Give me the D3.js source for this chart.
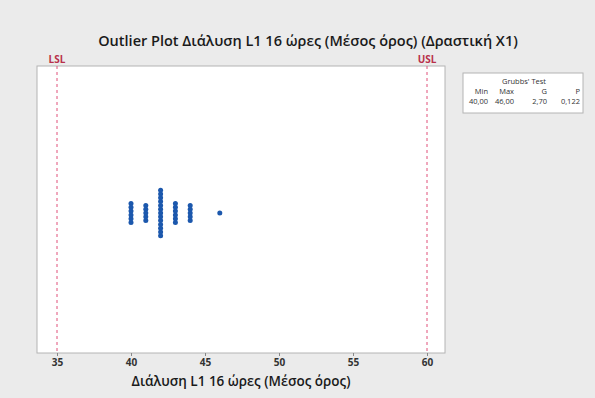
<!DOCTYPE html>
<html>
<head>
<meta charset="utf-8">
<script src="https://cdn.jsdelivr.net/npm/d3@7"></script>
<style>
  html, body { margin: 0; padding: 0; background: #ebebeb; }
  svg { display: block; }
</style>
</head>
<body>
<svg id="chart" width="595" height="398"></svg>
<script>
// Observations (Διάλυση L1 16 ώρες, μέσος όρος)
const observations = [
  40, 40, 40, 40, 40, 40,
  41, 41, 41, 41, 41,
  42, 42, 42, 42, 42, 42, 42, 42, 42, 42, 42, 42, 42,
  43, 43, 43, 43, 43, 43,
  44, 44, 44, 44, 44,
  46
];
const specLimits = [
  { label: "LSL", value: 35 },
  { label: "USL", value: 60 }
];
const xTicks = [35, 40, 45, 50, 55, 60];
const grubbsHeaders = ["Min", "Max", "G", "P"];
const grubbsValues = ["40,00", "46,00", "2,70", "0,122"];

const titleText = "Outlier Plot Διάλυση L1 16 ώρες (Μέσος όρος) (Δραστική Χ1)";
const xTitle = "Διάλυση L1 16 ώρες (Μέσος όρος)";

const svg = d3.select("#chart");
const W = 595, H = 398;
const font = "'Open Sans', 'Noto Sans', sans-serif";

svg.append("rect").attr("width", W).attr("height", H).attr("fill", "#ebebeb");

// plot area
const plot = { left: 37, right: 445, top: 66, bottom: 353 };
const x = d3.scaleLinear().domain([35, 60]).range([57, 427]);

svg.append("rect")
  .attr("x", plot.left).attr("y", plot.top)
  .attr("width", plot.right - plot.left).attr("height", plot.bottom - plot.top)
  .attr("fill", "#ffffff").attr("stroke", "#b4b4b4").attr("stroke-width", 1);

// title
svg.append("text")
  .attr("x", 308).attr("y", 46)
  .attr("text-anchor", "middle")
  .attr("font-family", font).attr("font-weight", 600).attr("font-size", 14.5)
  .attr("fill", "#1a1a1a")
  .text(titleText);

// specification limits
const specG = svg.append("g");
specLimits.forEach(s => {
  specG.append("line")
    .attr("x1", x(s.value)).attr("x2", x(s.value))
    .attr("y1", plot.top).attr("y2", plot.bottom)
    .attr("stroke", "#e0507a").attr("stroke-width", 1)
    .attr("stroke-dasharray", "3,3");
  specG.append("text")
    .attr("x", x(s.value)).attr("y", plot.top - 3)
    .attr("text-anchor", "middle")
    .attr("font-family", font).attr("font-weight", 700).attr("font-size", 10)
    .attr("fill", "#b8304a")
    .text(s.label);
});

// x axis
const axis = d3.axisBottom(x).tickValues(xTicks).tickSize(3).tickPadding(3)
  .tickFormat(d3.format("d"));
const axG = svg.append("g")
  .attr("transform", `translate(0,${plot.bottom})`)
  .call(axis);
axG.select(".domain").remove();
axG.selectAll(".tick line").attr("stroke", "#888");
axG.selectAll(".tick text")
  .attr("font-family", font).attr("font-size", 10).attr("font-weight", 700)
  .attr("fill", "#333");

svg.append("text")
  .attr("x", 241).attr("y", 386)
  .attr("text-anchor", "middle")
  .attr("font-family", font).attr("font-size", 13.5).attr("font-weight", 600)
  .attr("fill", "#1a1a1a")
  .text(xTitle);

// stacked dots, centred vertically at the middle row
const counts = d3.rollups(observations, v => v.length, d => d);
const dotStep = 3.8;
const yCenter = 213;
const dots = [];
counts.forEach(([val, n]) => {
  for (let i = 0; i < n; i++) {
    dots.push({ value: val, offset: i - (n - 1) / 2 });
  }
});
const y = d3.scaleLinear().domain([0, 1]).range([yCenter, yCenter - dotStep]);

svg.append("g").selectAll("circle")
  .data(dots)
  .join("circle")
  .attr("cx", d => x(d.value))
  .attr("cy", d => y(d.offset))
  .attr("r", 2.5)
  .attr("fill", "#1c58ad");

// Grubbs' test table
const box = { x: 463, y: 73, w: 120, h: 40 };
svg.append("rect")
  .attr("x", box.x).attr("y", box.y).attr("width", box.w).attr("height", box.h)
  .attr("fill", "#ffffff").attr("stroke", "#b4b4b4");
svg.append("text")
  .attr("x", box.x + box.w / 2 + 1).attr("y", box.y + 11)
  .attr("text-anchor", "middle")
  .attr("font-family", font).attr("font-size", 7.5).attr("fill", "#333")
  .text("Grubbs' Test");
const colRight = [488, 514, 547, 580];
grubbsHeaders.forEach((h, i) => {
  svg.append("text")
    .attr("x", colRight[i]).attr("y", box.y + 21)
    .attr("text-anchor", "end")
    .attr("font-family", font).attr("font-size", 7.5).attr("fill", "#333")
    .text(h);
  svg.append("text")
    .attr("x", colRight[i]).attr("y", box.y + 31)
    .attr("text-anchor", "end")
    .attr("font-family", font).attr("font-size", 7.5).attr("fill", "#333")
    .text(grubbsValues[i]);
});
</script>
</body>
</html>
